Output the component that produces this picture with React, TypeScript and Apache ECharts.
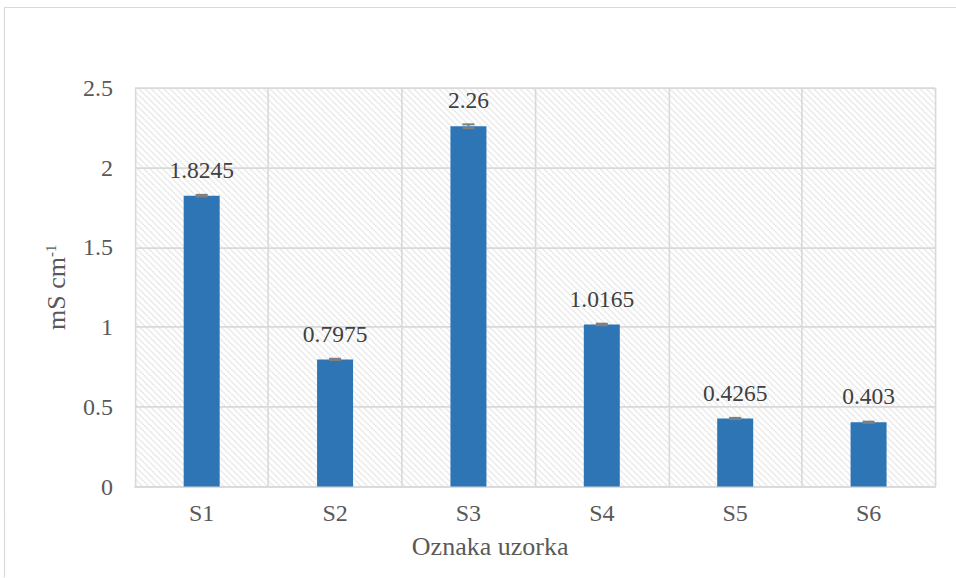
import React, { useEffect, useRef } from "react";
import * as echarts from "echarts";

const categories = ["S1", "S2", "S3", "S4", "S5", "S6"];
const values = [1.8245, 0.7975, 2.26, 1.0165, 0.4265, 0.403];
const errors = [0.005, 0.004, 0.012, 0.005, 0.004, 0.004];
const yTicks = { min: 0, max: 2.5, interval: 0.5 };

// The chart is drawn at 1/K size and scaled up by CSS.
const K = 1.25;
const W = 956;
const H = 578;
const px = (v: number) => v / K;

function makeHatch(): HTMLCanvasElement {
  const s = 5;
  const c = document.createElement("canvas");
  c.width = s;
  c.height = s;
  const ctx = c.getContext("2d")!;
  ctx.fillStyle = "#ffffff";
  ctx.fillRect(0, 0, s, s);
  ctx.strokeStyle = "#d6d6d6";
  ctx.lineWidth = 0.85;
  for (const o of [-s, 0, s]) {
    ctx.beginPath();
    ctx.moveTo(o, 0);
    ctx.lineTo(o + s, s);
    ctx.stroke();
  }
  return c;
}

export default function App() {
  const ref = useRef<HTMLDivElement>(null);
  useEffect(() => {
    document.body.style.margin = "0";
    const chart = echarts.init(ref.current!, null, { renderer: "svg" });
    const font = "Liberation Serif";
    chart.setOption({
      animation: false,
      backgroundColor: "#ffffff",
      graphic: [
        {
          type: "rect",
          shape: { x: px(4.5), y: px(7.5), width: 1000, height: 1000 },
          style: { fill: "none", stroke: "#d9d9d9", lineWidth: px(1.2) },
          silent: true,
        },
      ],
      grid: {
        left: px(135),
        right: px(21),
        top: px(88),
        bottom: px(91),
        show: true,
        borderWidth: 0,
        backgroundColor: { image: makeHatch(), repeat: "repeat" },
      },
      xAxis: {
        type: "category",
        data: categories,
        name: "Oznaka uzorka",
        nameLocation: "middle",
        nameGap: px(47),
        nameTextStyle: {
          fontSize: px(26),
          color: "#595959",
          fontFamily: font,
          padding: [0, px(90), 0, 0],
        },
        axisLine: { lineStyle: { color: "#d9d9d9", width: px(1.8) } },
        axisTick: { show: false },
        axisLabel: { fontSize: px(24), color: "#595959", margin: px(15), fontFamily: font },
        splitLine: { show: true, lineStyle: { color: "#d9d9d9", width: px(1.6) } },
      },
      yAxis: {
        type: "value",
        min: yTicks.min,
        max: yTicks.max,
        interval: yTicks.interval,
        name: "{a|mS cm}{b|-1}",
        nameLocation: "middle",
        nameGap: px(61),
        nameRotate: 90,
        nameTextStyle: {
          color: "#595959",
          fontFamily: font,
          rich: {
            a: { fontSize: px(26), color: "#595959", fontFamily: font, verticalAlign: "bottom" },
            b: { fontSize: px(15), color: "#595959", fontFamily: font, verticalAlign: "top" },
          },
        },
        axisLine: { show: false },
        axisTick: { show: false },
        axisLabel: { fontSize: px(24), color: "#595959", margin: px(22), fontFamily: font },
        splitLine: { show: true, lineStyle: { color: "#d9d9d9", width: px(1.6) } },
      },
      series: [
        {
          type: "bar",
          data: values,
          barWidth: px(36),
          itemStyle: { color: "#2e75b6" },
          label: {
            show: true,
            position: "top",
            distance: px(14),
            fontSize: px(23.5),
            color: "#404040",
            fontFamily: font,
          },
          z: 2,
        },
        {
          type: "custom",
          z: 3,
          data: values.map((v, i) => [i, v, errors[i]]),
          renderItem: (params: any, api: any) => {
            const i = api.value(0);
            const v = api.value(1);
            const e = api.value(2);
            const top = api.coord([i, v + e]);
            const bot = api.coord([i, v - e]);
            const hw = px(6);
            const style = { stroke: "#7f7f7f", lineWidth: px(2) };
            return {
              type: "group",
              children: [
                { type: "line", shape: { x1: top[0], y1: top[1], x2: bot[0], y2: bot[1] }, style },
                { type: "line", shape: { x1: top[0] - hw, y1: top[1], x2: top[0] + hw, y2: top[1] }, style },
                { type: "line", shape: { x1: bot[0] - hw, y1: bot[1], x2: bot[0] + hw, y2: bot[1] }, style },
              ],
            };
          },
        },
      ],
    });
    return () => chart.dispose();
  }, []);
  return (
    <div style={{ width: W, height: H, overflow: "hidden" }}>
      <div
        ref={ref}
        style={{ width: W / K, height: H / K, transform: `scale(${K})`, transformOrigin: "0 0" }}
      />
    </div>
  );
}
